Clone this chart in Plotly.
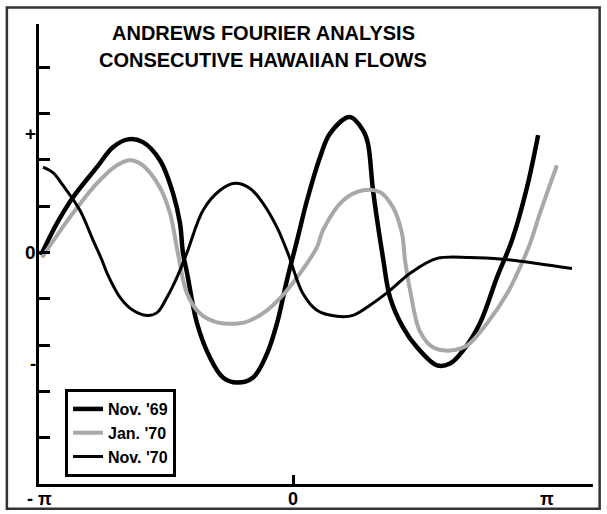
import plotly.graph_objects as go

# x in units of pi (t / pi), y in axis units
nov69_x = [-0.992, -0.929, -0.866, -0.772, -0.709, -0.650, -0.591, -0.524, -0.472, -0.445, -0.433,
           -0.417, -0.378, -0.327, -0.276, -0.220, -0.157, -0.102, -0.063, -0.024, 0.016, 0.055,
           0.106, 0.146, 0.224, 0.276, 0.295, 0.315, 0.354, 0.382, 0.433, 0.488, 0.567, 0.618,
           0.669, 0.736, 0.803, 0.862, 0.921, 0.965]
nov69_y = [-0.06, 0.63, 1.19, 1.84, 2.27, 2.44, 2.38, 1.99, 1.27, 0.63, -0.02,
           -0.45, -1.53, -2.27, -2.70, -2.81, -2.70, -2.18, -1.53, -0.60, 0.26, 1.12,
           2.05, 2.57, 2.92, 2.63, 2.35, 1.34, -0.11, -0.97, -1.62, -2.05, -2.44, -2.40,
           -2.12, -1.53, -0.54, 0.26, 1.40, 2.53]

jan70_x = [-0.988, -0.878, -0.772, -0.693, -0.642, -0.591, -0.524, -0.484, -0.453, -0.417, -0.366,
           -0.299, -0.209, -0.169, -0.102, -0.051, 0.016, 0.094, 0.118, 0.197, 0.276, 0.343,
           0.394, 0.429, 0.441, 0.461, 0.500, 0.551, 0.618, 0.685, 0.764, 0.843, 0.894, 0.933,
           0.972, 1.039]
jan70_y = [-0.11, 0.76, 1.49, 1.88, 1.99, 1.88, 1.40, 0.84, -0.02, -0.89, -1.32,
           -1.51, -1.53, -1.47, -1.25, -0.99, -0.54, 0.11, 0.48, 1.12, 1.34, 1.30,
           0.97, 0.41, -0.17, -0.82, -1.71, -2.05, -2.12, -2.01, -1.53, -0.89, -0.32, 0.19,
           0.84, 1.88]

nov70_x = [-0.984, -0.945, -0.906, -0.839, -0.787, -0.752, -0.732, -0.681, -0.630, -0.575, -0.535, -0.496,
           -0.457, -0.417, -0.354, -0.287, -0.228, -0.169, -0.118, -0.063, -0.020, 0.039, 0.094,
           0.173, 0.236, 0.303, 0.382, 0.461, 0.567, 0.697, 0.827, 0.961, 1.098]
nov70_y = [1.84, 1.72, 1.45, 0.91, 0.26, -0.17, -0.45, -0.97, -1.25, -1.36, -1.30, -0.97,
           -0.54, 0.00, 0.91, 1.34, 1.49, 1.38, 1.06, 0.54, -0.02, -0.89, -1.25,
           -1.38, -1.36, -1.14, -0.82, -0.45, -0.13, -0.11, -0.15, -0.24, -0.35]

series_names = ["Nov. '69", "Jan. '70", "Nov. '70"]
title_lines = ["ANDREWS FOURIER ANALYSIS", "CONSECUTIVE HAWAIIAN FLOWS"]
x_tick_labels = ["- \u03c0", "0", "\u03c0"]
x_tick_vals = [-1, 0, 1]
y_marks = [("+", 2.57, 19), ("0", 0.0, 19), ("-", -2.4, 19)]

FONT = "Liberation Sans, Arial, sans-serif"

fig = go.Figure()
fig.add_trace(go.Scatter(x=nov69_x, y=nov69_y, mode="lines", name=series_names[0],
                         line=dict(color="#000000", width=4.5, shape="spline", smoothing=1.0)))
fig.add_trace(go.Scatter(x=jan70_x, y=jan70_y, mode="lines", name=series_names[1],
                         line=dict(color="#a8a8a8", width=4, shape="spline", smoothing=1.0)))
fig.add_trace(go.Scatter(x=nov70_x, y=nov70_y, mode="lines", name=series_names[2],
                         line=dict(color="#000000", width=3, shape="spline", smoothing=1.0)))

annotations = []
for txt, yp in zip(title_lines, [0.980, 0.922]):
    annotations.append(dict(x=0.405, y=yp, xref="paper", yref="paper", text=txt,
                            showarrow=False, xanchor="center", yanchor="middle",
                            font=dict(family=FONT, size=20, color="black", weight="bold")))
for txt, xv in zip(x_tick_labels, x_tick_vals):
    annotations.append(dict(x=xv, y=0, xref="x", yref="paper", text=txt,
                            showarrow=False, yanchor="top", yshift=-3,
                            font=dict(family=FONT, size=18, color="black", weight="bold")))
for txt, yv, fs in y_marks:
    annotations.append(dict(x=0, y=yv, xref="paper", yref="y", text=txt,
                            showarrow=False, xanchor="right", xshift=-1,
                            font=dict(family=FONT, size=fs, color="black", weight="bold")))

fig.update_layout(
    width=607, height=514,
    margin=dict(l=39, r=14, t=24, b=30),
    paper_bgcolor="white", plot_bgcolor="white",
    showlegend=True,
    xaxis=dict(range=[-1.0, 1.181], showgrid=False, zeroline=False, showline=True,
               linecolor="black", linewidth=3, tickvals=[0], ticktext=[""],
               ticks="inside", ticklen=9, tickwidth=3, tickcolor="black"),
    yaxis=dict(range=[-5.0, 4.93], showgrid=False, zeroline=False, showline=True,
               linecolor="black", linewidth=3, tickvals=[-4, -3, -2, -1, 0, 1, 2, 3, 4],
               showticklabels=False, ticks="inside", ticklen=11, tickwidth=3, tickcolor="black"),
    legend=dict(x=0.047, y=0.2065, xanchor="left", yanchor="top",
                bordercolor="black", borderwidth=3, bgcolor="white",
                font=dict(family=FONT, size=16, color="black", weight="bold"),
                tracegroupgap=0, itemwidth=30),
    annotations=annotations,
    shapes=[dict(type="rect", xref="paper", yref="paper", x0=-0.058, x1=1.012, y0=-0.054, y1=1.036,
                 line=dict(color="#333333", width=2.5), layer="above")],
)
fig.write_html("out.html")
